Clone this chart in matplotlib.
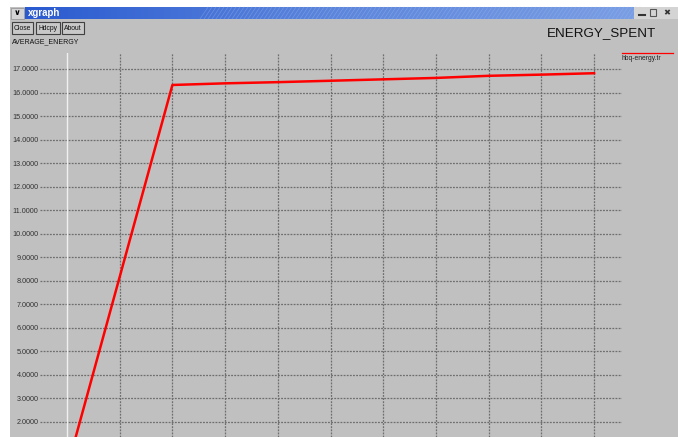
import numpy as np
import matplotlib
matplotlib.use("Agg")
import matplotlib.pyplot as plt
from matplotlib.patches import Rectangle

# data
x_vals = [0, 2, 3, 4, 5, 6, 7, 8, 9, 10]
energy = [0.0, 16.32, 16.39, 16.44, 16.50, 16.56, 16.62, 16.71, 16.76, 16.82]
y_ticks = list(range(2, 18))
x_grid = list(range(1, 11))

title = "ENERGY_SPENT"
ylabel = "AVERAGE_ENERGY"
series_name = "hbq-energy.tr"
buttons = ["Close", "Hdcpy", "About"]

W, H = 678, 437
bg = "#c0c0c0"
plt.rcParams["font.family"] = ["Liberation Sans", "DejaVu Sans"]

fig = plt.figure(figsize=(W / 100, H / 100), dpi=100)
fig.patch.set_facecolor("white")

# window chrome, drawn in pixel coordinates
win = fig.add_axes([0, 0, 1, 1], zorder=0)
win.set_xlim(0, W)
win.set_ylim(H, 0)
win.axis("off")
win.add_patch(Rectangle((10, 7), W - 10, H - 7, facecolor=bg, edgecolor="none"))

# title bar gradient
grad = np.linspace(0, 1, 256).reshape(1, -1)
cmap = matplotlib.colors.LinearSegmentedColormap.from_list("tb", ["#2a5ad0", "#5c86dc", "#7a9ee4"])
win.imshow(grad, extent=(25, 634, 19, 7), aspect="auto", cmap=cmap, zorder=1)
for hx in range(200, 634, 4):
    win.plot([hx, hx + 8], [19, 7], color="#9ab4ea", lw=0.5, zorder=2, alpha=0.45)
win.add_patch(Rectangle((11, 8), 13, 11, facecolor="#d4d4d4", edgecolor="#909090", lw=0.5, zorder=3))
win.text(17.5, 13.5, "\u2228", ha="center", va="center", fontsize=6, fontweight="bold", zorder=4)
win.text(28, 13, "xgraph", color="white", fontsize=7, fontweight="bold", va="center", zorder=4)
win.add_patch(Rectangle((634, 7), 44, 12, facecolor="#d4d4d4", edgecolor="none", zorder=3))
win.plot([639, 645], [15, 15], color="#333333", lw=1.5, zorder=4)
win.add_patch(Rectangle((650, 9), 6, 7, facecolor="none", edgecolor="#555555", lw=0.8, zorder=4))
win.text(667, 13, "\u2716", ha="center", va="center", fontsize=6, color="#333333", zorder=4,
         family=["DejaVu Sans"])

# buttons
bx = [(12, 21), (36, 24), (62, 22)]
for (x0, w), lab in zip(bx, buttons):
    win.add_patch(Rectangle((x0, 22), w, 12, facecolor="#c8c8c8", edgecolor="#404040", lw=0.8, zorder=3))
    win.text(x0 + w / 2, 28.5, lab, ha="center", va="center", fontsize=4.9, color="#111111", zorder=4)

win.text(12, 42, ylabel, fontsize=5, va="center", color="#111111")
win.text(601, 33, title, ha="center", va="center", fontsize=9.6, color="#111111")
win.plot([622, 673], [53, 53], color="red", lw=0.9)
win.text(622, 58.5, series_name, fontsize=4.9, va="center", color="#222222")

# plot area: x0=0 at px 67, 52.7 px per unit; y 17 at px 69, 23.5 px per unit
ax = fig.add_axes([40 / W, 0, 582 / W, 384 / H], zorder=1)
ax.set_facecolor("none")
ax.set_xlim(-0.512, 10.53)
ax.set_ylim(1.35, 17.68)
for s in ax.spines.values():
    s.set_visible(False)

for yv in y_ticks:
    ax.axhline(yv, color="#6e6e6e", lw=0.9, ls=(0, (1.5, 1)), zorder=1)
for xv in x_grid:
    ax.axvline(xv, color="#6e6e6e", lw=0.9, ls=(0, (1.5, 1)), zorder=1)
ax.axvline(0, color="#f0f0f0", lw=1.0, zorder=1)

ax.plot(x_vals, energy, color="red", lw=1.8, zorder=3)

ax.set_yticks(y_ticks)
ax.set_yticklabels(["%.4f" % v for v in y_ticks], fontsize=5.2, color="#333333")
ax.tick_params(axis="y", length=0, pad=1)
ax.set_xticks([])

fig.savefig("out.png", dpi=100, facecolor=fig.get_facecolor())
